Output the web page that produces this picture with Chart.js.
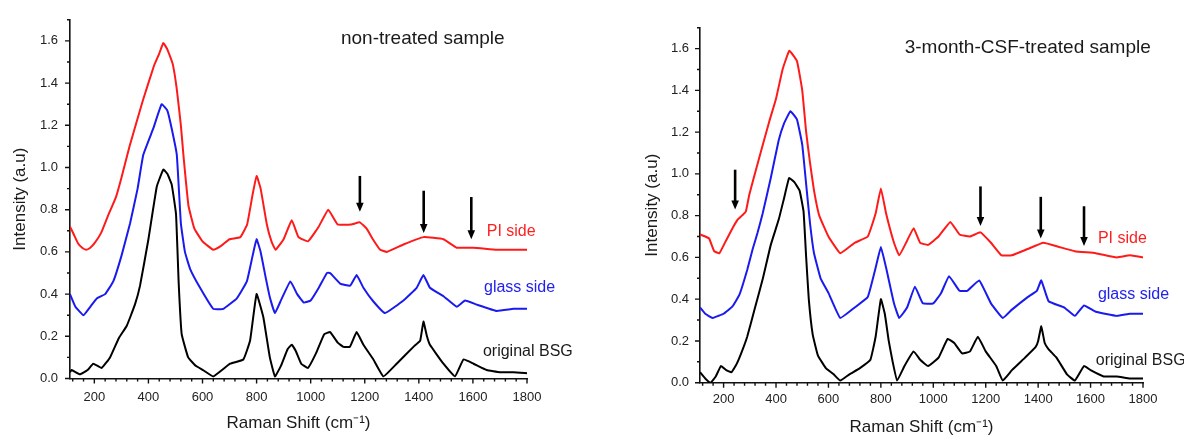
<!DOCTYPE html>
<html>
<head>
<meta charset="utf-8">
<script src="https://cdn.jsdelivr.net/npm/chart.js@4/dist/chart.umd.min.js"></script>
<style>
  html, body { margin: 0; padding: 0; background: #fff; }
  #wrap { position: relative; width: 1184px; height: 439px; overflow: hidden; }
  canvas { position: absolute; top: 0; }
  #left { left: 0; }
  #right { left: 592px; }
</style>
</head>
<body>
<div id="wrap">
  <canvas id="left" width="592" height="439"></canvas>
  <canvas id="right" width="592" height="439"></canvas>
</div>
<script>
// tick labels
const xTickLabels = [200, 400, 600, 800, 1000, 1200, 1400, 1600, 1800];
const yTickLabels = [0.0, 0.2, 0.4, 0.6, 0.8, 1.0, 1.2, 1.4, 1.6];

// left panel: non-treated sample
const leftBsgX = [110,116,147,175,196,227,258,290,320,350,369,400,431,455,470,486,502,512,523,547,575,602,640,702,751,776,800,825,849,868,890,915,930,945,965,990,1020,1050,1072,1100,1121,1145,1170,1195,1232,1269,1318,1380,1405,1417,1430,1441,1491,1534,1565,1602,1651,1700,1750,1800];
const leftBsgY = [0.03,0.04,0.02,0.04,0.07,0.05,0.10,0.19,0.25,0.35,0.44,0.66,0.91,0.99,0.97,0.92,0.78,0.45,0.21,0.10,0.06,0.04,0.01,0.07,0.09,0.18,0.40,0.29,0.10,0.01,0.06,0.14,0.16,0.13,0.07,0.05,0.12,0.21,0.22,0.17,0.15,0.15,0.22,0.16,0.09,0.01,0.07,0.15,0.18,0.27,0.20,0.16,0.07,0.01,0.09,0.07,0.04,0.03,0.03,0.025];

const leftGlassX = [110,130,160,185,210,240,270,300,332,360,381,418,449,470,486,505,520,535,554,591,640,677,727,764,785,800,815,835,850,868,890,925,950,975,1000,1030,1060,1072,1109,1146,1170,1195,1232,1275,1343,1392,1417,1441,1491,1540,1571,1614,1688,1750,1800];
const leftGlassY = [0.40,0.34,0.30,0.34,0.38,0.40,0.46,0.58,0.735,0.90,1.06,1.185,1.30,1.27,1.185,1.06,0.735,0.60,0.52,0.43,0.33,0.33,0.38,0.46,0.58,0.66,0.60,0.47,0.38,0.31,0.37,0.46,0.40,0.36,0.37,0.43,0.50,0.50,0.45,0.44,0.49,0.43,0.365,0.31,0.37,0.43,0.49,0.43,0.39,0.34,0.37,0.35,0.32,0.33,0.33];

const leftPiX = [110,125,140,155,170,185,200,225,250,280,300,330,380,420,440,455,470,490,505,520,530,548,570,600,640,670,700,740,765,785,800,815,838,855,870,900,930,955,990,1030,1065,1100,1150,1182,1207,1230,1257,1282,1343,1417,1491,1540,1602,1688,1750,1800];
const leftPiY = [0.72,0.68,0.64,0.62,0.61,0.62,0.64,0.69,0.77,0.86,0.95,1.10,1.32,1.48,1.54,1.59,1.56,1.49,1.37,1.20,1.05,0.82,0.71,0.65,0.61,0.63,0.66,0.67,0.73,0.87,0.96,0.90,0.73,0.65,0.61,0.66,0.75,0.67,0.65,0.72,0.80,0.73,0.73,0.74,0.71,0.66,0.61,0.60,0.635,0.67,0.66,0.62,0.62,0.61,0.61,0.61];

// right panel: 3-month-CSF-treated sample
const rightBsgX = [110,130,150,170,190,210,230,250,270,290,320,350,380,410,430,450,470,490,505,515,525,540,560,590,620,645,680,720,760,780,800,815,830,845,862,890,925,950,980,1020,1055,1080,1110,1140,1170,1200,1240,1265,1300,1350,1390,1400,1412,1425,1440,1470,1510,1540,1575,1600,1650,1700,1750,1800];
const rightBsgY = [0.05,0.02,0.00,0.03,0.08,0.06,0.05,0.09,0.15,0.22,0.36,0.50,0.66,0.78,0.88,0.98,0.96,0.92,0.82,0.60,0.40,0.23,0.13,0.07,0.04,0.01,0.04,0.07,0.11,0.22,0.40,0.33,0.20,0.10,0.01,0.08,0.15,0.11,0.08,0.12,0.21,0.19,0.14,0.15,0.22,0.15,0.08,0.01,0.06,0.12,0.17,0.20,0.27,0.19,0.16,0.12,0.04,0.01,0.08,0.06,0.03,0.03,0.02,0.02];

const rightGlassX = [110,130,158,180,200,234,260,290,311,330,349,380,410,430,455,480,500,515,530,545,570,600,645,700,750,780,800,820,850,870,900,930,960,1000,1030,1060,1100,1130,1175,1220,1265,1300,1360,1395,1412,1440,1500,1540,1575,1620,1700,1750,1800];
const rightGlassY = [0.36,0.33,0.31,0.32,0.33,0.365,0.42,0.54,0.64,0.72,0.81,0.98,1.16,1.24,1.30,1.26,1.14,0.95,0.76,0.62,0.50,0.43,0.31,0.36,0.41,0.55,0.65,0.55,0.38,0.31,0.36,0.46,0.38,0.38,0.43,0.51,0.44,0.44,0.49,0.38,0.31,0.35,0.41,0.44,0.49,0.39,0.36,0.32,0.37,0.34,0.32,0.33,0.33];

const rightPiX = [110,130,145,164,184,209,234,253,270,285,298,330,374,400,425,451,480,500,515,530,545,565,600,645,700,750,780,800,820,850,870,900,925,950,980,1020,1065,1100,1140,1180,1220,1260,1300,1360,1420,1480,1540,1620,1700,1750,1800];
const rightPiY = [0.71,0.70,0.69,0.63,0.62,0.68,0.74,0.78,0.80,0.82,0.90,1.05,1.25,1.36,1.50,1.59,1.54,1.40,1.20,1.05,0.92,0.80,0.70,0.62,0.67,0.70,0.81,0.93,0.81,0.67,0.61,0.68,0.74,0.67,0.66,0.70,0.77,0.71,0.70,0.72,0.67,0.61,0.61,0.64,0.67,0.65,0.63,0.62,0.60,0.61,0.60];

// annotations (data coordinates)
const leftNotes = [
    { text: 'non-treated sample', x: 1112, y: 1.61, color: '#1a1a1a', size: 19 },
    { text: 'PI side', x: 1651, y: 0.694, color: '#ff1f1f', size: 16 },
    { text: 'glass side', x: 1641, y: 0.431, color: '#2222ee', size: 16 },
    { text: 'original BSG', x: 1637, y: 0.129, color: '#1a1a1a', size: 16 }
];
const leftArrows = [[1182, 0.96, 0.79], [1418, 0.89, 0.69], [1594, 0.86, 0.66]];

const rightNotes = [
    { text: '3-month-CSF-treated sample', x: 891, y: 1.605, color: '#1a1a1a', size: 19 },
    { text: 'PI side', x: 1628, y: 0.69, color: '#ff1f1f', size: 16 },
    { text: 'glass side', x: 1628, y: 0.423, color: '#2222ee', size: 16 },
    { text: 'original BSG', x: 1620, y: 0.104, color: '#1a1a1a', size: 16 }
];
const rightArrows = [[244, 1.02, 0.83], [1180, 0.94, 0.75], [1410, 0.89, 0.69], [1575, 0.845, 0.655]];

const FONT = "'Liberation Sans', Arial, sans-serif";

function pts(xs, ys) {
    return xs.map((x, i) => ({ x: x, y: ys[i] }));
}

// outward tick marks, arrows and text labels
const decor = {
    id: 'decor',
    afterDraw(chart, args, opts) {
        const ctx = chart.ctx;
        const xs = chart.scales.x, ys = chart.scales.y;
        const area = chart.chartArea;
        ctx.save();
        ctx.strokeStyle = '#111';
        ctx.lineWidth = 1.4;
        ctx.beginPath();
        for (let v = 120; v <= 1800; v += 40) {
            const px = xs.getPixelForValue(v);
            const len = xTickLabels.includes(v) ? 5 : 3;
            ctx.moveTo(px, area.bottom);
            ctx.lineTo(px, area.bottom + len);
        }
        for (let i = 0; i <= 17; i++) {
            const py = ys.getPixelForValue(i / 10);
            const len = i % 2 === 0 ? 5 : 3;
            ctx.moveTo(area.left, py);
            ctx.lineTo(area.left - len, py);
        }
        ctx.stroke();

        // arrows
        ctx.fillStyle = '#000';
        ctx.strokeStyle = '#000';
        opts.arrows.forEach(a => {
            const px = xs.getPixelForValue(a[0]);
            const top = ys.getPixelForValue(a[1]);
            const tip = ys.getPixelForValue(a[2]);
            ctx.lineWidth = 2.6;
            ctx.beginPath();
            ctx.moveTo(px, top);
            ctx.lineTo(px, tip - 7);
            ctx.stroke();
            ctx.beginPath();
            ctx.moveTo(px - 3.8, tip - 9);
            ctx.lineTo(px + 3.8, tip - 9);
            ctx.lineTo(px, tip);
            ctx.closePath();
            ctx.fill();
        });

        // labels
        ctx.textAlign = 'left';
        ctx.textBaseline = 'middle';
        opts.notes.forEach(n => {
            ctx.font = n.size + 'px ' + FONT;
            ctx.fillStyle = n.color;
            ctx.fillText(n.text, xs.getPixelForValue(n.x), ys.getPixelForValue(n.y));
        });
        ctx.restore();
    }
};

function makePanel(id, series, notes, arrows, geo) {
    const ctx = document.getElementById(id).getContext('2d');
    new Chart(ctx, {
        type: 'scatter',
        data: {
            datasets: series.map(s => ({
                data: s.data,
                showLine: true,
                borderColor: s.color,
                borderWidth: 2,
                pointRadius: 0,
                tension: 0.1
            }))
        },
        options: {
            responsive: false,
            animation: false,
            events: [],
            layout: { padding: { left: 0, right: geo.padRight, top: geo.padTop, bottom: 0 } },
            plugins: {
                legend: { display: false },
                tooltip: { enabled: false },
                decor: { notes: notes, arrows: arrows }
            },
            scales: {
                x: {
                    type: 'linear',
                    min: 110,
                    max: 1800,
                    afterBuildTicks: scale => {
                        scale.ticks = xTickLabels.map(v => ({ value: v }));
                    },
                    afterFit: scale => { scale.height = geo.xHeight; },
                    grid: { display: false, drawTicks: false },
                    border: { display: true, color: '#111', width: 1.6 },
                    ticks: {
                        autoSkip: false,
                        maxRotation: 0,
                        padding: geo.xPad,
                        color: '#222',
                        font: { family: FONT, size: 13 },
                        callback: v => String(v)
                    },
                    title: {
                        display: true,
                        text: 'Raman Shift (cm⁻¹)',
                        color: '#1a1a1a',
                        font: { family: FONT, size: 17 },
                        padding: { top: 0, bottom: geo.xTitlePad }
                    }
                },
                y: {
                    type: 'linear',
                    min: 0,
                    max: 1.7,
                    afterBuildTicks: scale => {
                        scale.ticks = yTickLabels.map(v => ({ value: v }));
                    },
                    afterFit: scale => { scale.width = geo.yWidth; },
                    grid: { display: false, drawTicks: false },
                    border: { display: true, color: '#111', width: 1.6 },
                    ticks: {
                        autoSkip: false,
                        padding: geo.yPad,
                        color: '#222',
                        font: { family: FONT, size: 13 },
                        callback: v => Number(v).toFixed(1)
                    },
                    title: {
                        display: true,
                        text: 'Intensity (a.u)',
                        color: '#1a1a1a',
                        font: { family: FONT, size: 17 },
                        padding: { top: geo.yTitlePad, bottom: 0 }
                    }
                }
            }
        },
        plugins: [decor]
    });
}

makePanel('left', [
    { data: pts(leftBsgX, leftBsgY), color: '#000000' },
    { data: pts(leftGlassX, leftGlassY), color: '#1a1aee' },
    { data: pts(leftPiX, leftPiY), color: '#ff1a1a' }
], leftNotes, leftArrows,
{ padRight: 65, padTop: 12, xHeight: 60.5, yWidth: 70, xPad: 11, yPad: 12, xTitlePad: 5, yTitlePad: 10 });

makePanel('right', [
    { data: pts(rightBsgX, rightBsgY), color: '#000000' },
    { data: pts(rightGlassX, rightGlassY), color: '#1a1aee' },
    { data: pts(rightPiX, rightPiY), color: '#ff1a1a' }
], rightNotes, rightArrows,
{ padRight: 41, padTop: 27.7, xHeight: 56.3, yWidth: 108, xPad: 9, yPad: 11, xTitlePad: 1, yTitlePad: 50 });
</script>
</body>
</html>
